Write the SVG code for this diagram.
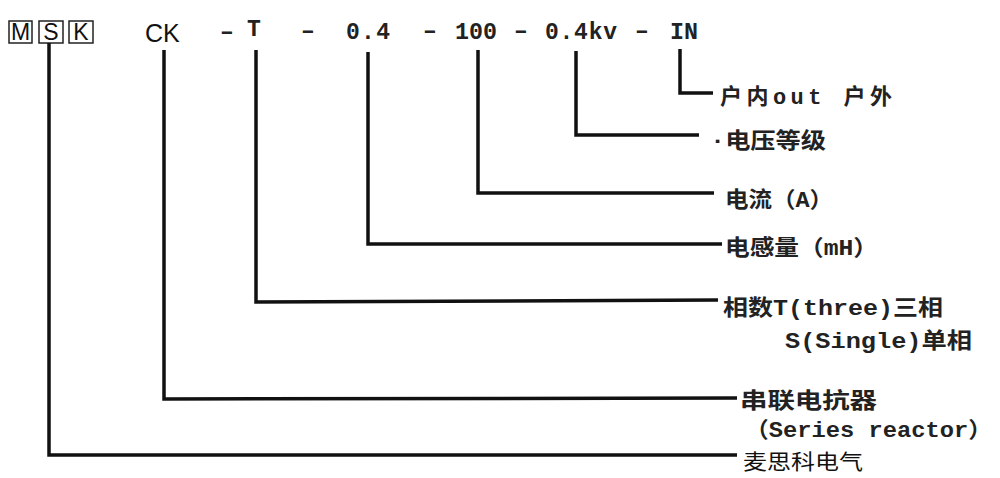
<svg xmlns="http://www.w3.org/2000/svg" width="1000" height="478" viewBox="0 0 1000 478">
<style>
.box{fill:none;stroke:#222;stroke-width:1.5}
.sans{font-family:"Liberation Sans","Noto Sans CJK SC",sans-serif;fill:#111}
.code{font-family:"Liberation Mono","Noto Sans CJK SC",monospace;font-weight:bold;fill:#222;font-size:23px}
.lbl{font-family:"Liberation Mono","Noto Sans CJK SC",monospace;font-weight:bold;fill:#222;font-size:22px}
.plain{font-family:"Noto Sans CJK SC","Liberation Sans",sans-serif;fill:#111;font-size:21px}
.con{fill:none;stroke:#111;stroke-width:3.5;stroke-linejoin:miter}
</style>
<rect width="1000" height="478" fill="#fff"/>
<g id="code-MSK">
<rect class="box" x="9" y="21" width="23" height="22"/>
<rect class="box" x="39" y="21" width="24" height="22"/>
<rect class="box" x="69" y="21" width="24" height="22"/>
<text class="sans" x="20.5" y="40" font-size="23" text-anchor="middle">M</text>
<text class="sans" x="51" y="40" font-size="23" text-anchor="middle">S</text>
<text class="sans" x="81" y="40" font-size="23" text-anchor="middle">K</text>
</g>
<g id="code-CK"><text class="sans" x="145" y="42" font-size="25">CK</text></g>
<g id="code-dashes">
<text class="code" x="227" y="39" text-anchor="middle" font-size="14">–</text>
<text class="code" x="308" y="38" text-anchor="middle">–</text>
<text class="code" x="430" y="38" text-anchor="middle">–</text>
<text class="code" x="521" y="38" text-anchor="middle">–</text>
<text class="code" x="642" y="38" text-anchor="middle">–</text>
</g>
<g id="code-T"><text class="code" x="254" y="36" text-anchor="middle">T</text></g>
<g id="code-L"><text class="code" x="346" y="39" textLength="44" lengthAdjust="spacing">0.4</text></g>
<g id="code-A"><text class="code" x="455" y="39" textLength="42" lengthAdjust="spacingAndGlyphs">100</text></g>
<g id="code-V"><text class="code" x="545" y="39" textLength="72" lengthAdjust="spacing">0.4kv</text></g>
<g id="code-IN"><text class="code" x="670" y="39" textLength="28" lengthAdjust="spacingAndGlyphs">IN</text></g>

<g id="connectors">
<polyline class="con" points="680,49 680,93 713,93"/>
<polyline class="con" points="576,51 576,135 699,135"/>
<polyline class="con" points="478,50 478,193 714,193"/>
<polyline class="con" points="368,52 368,244 722,244"/>
<polyline class="con" points="256,50 256,302 718,300"/>
<polyline class="con" points="164,50 164,399 737,398"/>
<polyline class="con" points="49,43 49,455 737,455"/>
</g>

<g id="label-IN"><text class="lbl" x="720" y="104" textLength="172" lengthAdjust="spacing">户内out 户外</text></g>
<g id="label-V"><text class="lbl" x="710" y="148" textLength="116" lengthAdjust="spacingAndGlyphs">·电压等级</text></g>
<g id="label-A"><text class="lbl" x="725" y="207" textLength="108" lengthAdjust="spacingAndGlyphs">电流（A）</text></g>
<g id="label-L"><text class="lbl" x="725" y="255" textLength="153" lengthAdjust="spacingAndGlyphs">电感量（mH）</text></g>
<g id="label-T">
<text class="lbl" x="723" y="315" textLength="220" lengthAdjust="spacingAndGlyphs">相数T(three)三相</text>
<text class="lbl" x="785" y="348" textLength="187" lengthAdjust="spacingAndGlyphs">S(Single)单相</text>
</g>
<g id="label-CK">
<text class="lbl" x="740" y="408" textLength="137" lengthAdjust="spacingAndGlyphs">串联电抗器</text>
<text class="lbl" x="745" y="437" font-size="21" textLength="247" lengthAdjust="spacingAndGlyphs">（Series reactor）</text>
</g>
<g id="label-MSK"><text class="plain" x="743" y="469" textLength="120" lengthAdjust="spacingAndGlyphs">麦思科电气</text></g>
</svg>
